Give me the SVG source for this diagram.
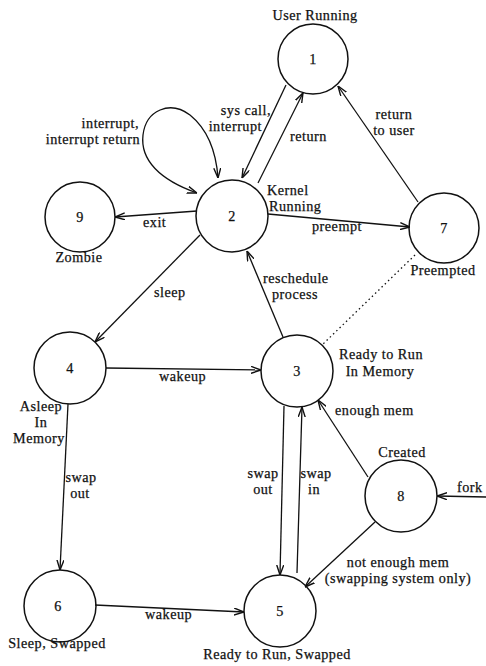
<svg xmlns="http://www.w3.org/2000/svg" width="486" height="666" viewBox="0 0 486 666">
<style>
.bg{fill:#fff}
.node circle{fill:none;stroke:#111;stroke-width:1.5}
text{font-family:"Liberation Serif","Times New Roman",serif;font-size:14.2px;letter-spacing:0.5px;fill:#111;stroke:#111;stroke-width:0.25}
.num{text-anchor:middle}
.c{text-anchor:middle}
.e{text-anchor:end}
.edges line,.edges path{fill:none;stroke:#111;stroke-width:1.3}
.edges .a{marker-end:url(#ah)}
.edges .dot{stroke-dasharray:1.5 3;stroke-width:1.3}
</style>
<defs>
<marker id="ah" viewBox="0 0 10 8" refX="10" refY="4" markerWidth="10" markerHeight="8" markerUnits="userSpaceOnUse" orient="auto-start-reverse">
<path d="M0,0.5 L10,4 L0,7.5" fill="none" stroke="#111" stroke-width="1.4"/>
</marker>
</defs>
<rect class="bg" x="0" y="0" width="486" height="666"/>

<g class="edges" id="connectors">
<line class="a" x1="286" y1="85" x2="242" y2="178"/>
<line class="a" x1="258" y1="183" x2="303" y2="93"/>
<path class="a" d="M197,193 C160,180 140,160 143,135 C146,110 170,100 190,115 C206,128 216,150 218,178" marker-start="url(#ah)"/>
<line class="a" x1="197" y1="211" x2="115" y2="217"/>
<line class="a" x1="268" y1="214" x2="410" y2="227"/>
<line class="a" x1="418" y1="202" x2="338" y2="86"/>
<line class="dot" x1="415" y1="255" x2="322" y2="345"/>
<line class="a" x1="200" y1="235" x2="95" y2="342"/>
<line class="a" x1="283" y1="337" x2="247" y2="251"/>
<line class="a" x1="106" y1="368" x2="261" y2="370"/>
<line class="a" x1="68" y1="404" x2="60" y2="570"/>
<line class="a" x1="284" y1="406" x2="280" y2="575"/>
<line class="a" x1="297" y1="573" x2="302" y2="407"/>
<line class="a" x1="368" y1="477" x2="318" y2="400"/>
<line class="a" x1="375" y1="522" x2="305" y2="587"/>
<line class="a" x1="486" y1="497" x2="437" y2="496"/>
<line class="a" x1="95" y1="605" x2="244" y2="612"/>
</g>

<g class="labels" id="edge-labels">
<text class="e" x="271" y="115">sys call,</text>
<text class="e" x="262" y="131">interrupt</text>
<text x="290" y="141">return</text>
<text class="e" x="139" y="128">interrupt,</text>
<text class="e" x="140" y="144">interrupt return</text>
<text class="c" x="394" y="119">return</text>
<text class="c" x="394" y="135">to user</text>
<text x="143" y="227">exit</text>
<text x="312" y="231">preempt</text>
<text x="154" y="297">sleep</text>
<text x="263" y="283">reschedule</text>
<text x="272" y="299">process</text>
<text x="159" y="381">wakeup</text>
<text x="335" y="415">enough mem</text>
<text class="c" x="81" y="482">swap</text>
<text class="c" x="80" y="498">out</text>
<text class="c" x="263" y="478">swap</text>
<text class="c" x="263" y="494">out</text>
<text class="c" x="316" y="478">swap</text>
<text class="c" x="314" y="494">in</text>
<text x="457" y="492">fork</text>
<text class="c" x="398" y="567">not enough mem</text>
<text class="c" x="398" y="583">(swapping system only)</text>
<text x="145" y="619">wakeup</text>
</g>

<g class="node" id="node-1">
<circle cx="313" cy="59" r="35"/>
<text class="num" x="313" y="64">1</text>
<text class="c" x="315" y="20">User Running</text>
</g>
<g class="node" id="node-2">
<circle cx="232" cy="216" r="36"/>
<text class="num" x="232" y="221">2</text>
<text x="267" y="195">Kernel</text>
<text x="269" y="211">Running</text>
</g>
<g class="node" id="node-9">
<circle cx="80" cy="217" r="35"/>
<text class="num" x="80" y="222">9</text>
<text class="c" x="79" y="262">Zombie</text>
</g>
<g class="node" id="node-7">
<circle cx="444" cy="228" r="35"/>
<text class="num" x="444" y="233">7</text>
<text class="c" x="443" y="275">Preempted</text>
</g>
<g class="node" id="node-4">
<circle cx="70" cy="368" r="36"/>
<text class="num" x="70" y="373">4</text>
<text class="c" x="41" y="411">Asleep</text>
<text class="c" x="41" y="427">In</text>
<text class="c" x="39" y="443">Memory</text>
</g>
<g class="node" id="node-3">
<circle cx="297" cy="371" r="36"/>
<text class="num" x="297" y="376">3</text>
<text class="c" x="381" y="359">Ready to Run</text>
<text class="c" x="380" y="376">In Memory</text>
</g>
<g class="node" id="node-8">
<circle cx="401" cy="496" r="36"/>
<text class="num" x="401" y="501">8</text>
<text class="c" x="402" y="457">Created</text>
</g>
<g class="node" id="node-6">
<circle cx="60" cy="606" r="36"/>
<text class="num" x="58" y="611">6</text>
<text class="c" x="57" y="648">Sleep, Swapped</text>
</g>
<g class="node" id="node-5">
<circle cx="280" cy="611" r="36"/>
<text class="num" x="280" y="616">5</text>
<text class="c" x="277" y="659">Ready to Run, Swapped</text>
</g>
</svg>
